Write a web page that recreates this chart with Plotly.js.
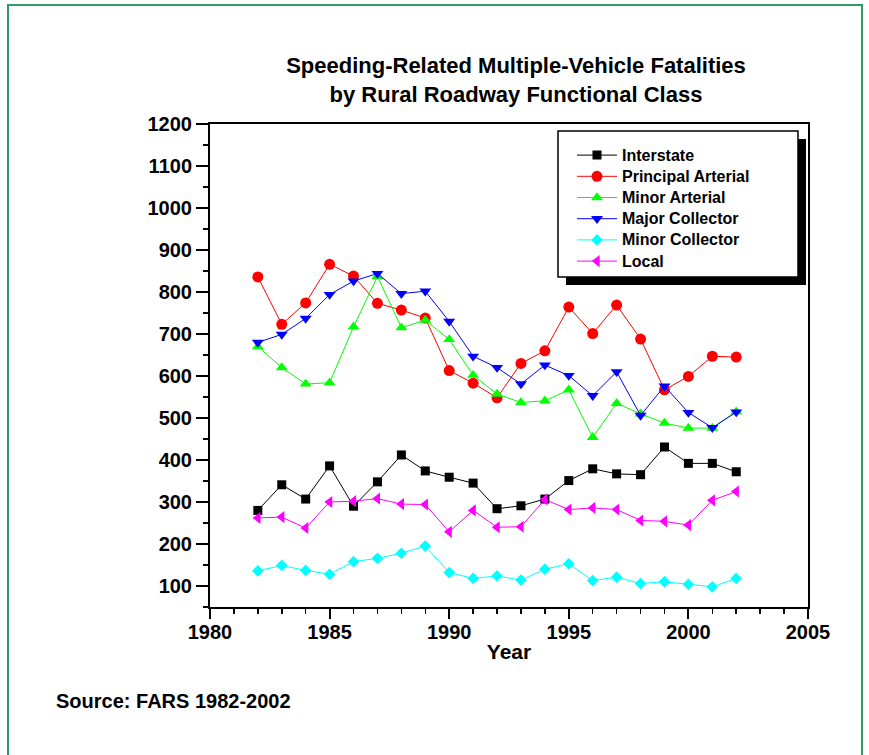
<!DOCTYPE html>
<html>
<head>
<meta charset="utf-8">
<script src="https://cdn.plot.ly/plotly-3.0.1.min.js"></script>
<style>
  html, body { margin: 0; padding: 0; background: #ffffff; }
  #chart { width: 869px; height: 755px; }
</style>
</head>
<body>
<div id="chart"></div>
<script>
// ---- data ----
const years = [1982, 1983, 1984, 1985, 1986, 1987, 1988, 1989, 1990, 1991, 1992,
               1993, 1994, 1995, 1996, 1997, 1998, 1999, 2000, 2001, 2002];
const interstate      = [280, 341, 307, 386, 290, 348, 412, 374, 359, 345, 284, 291, 307, 351, 379, 367, 365, 431, 392, 392, 372];
const principalArt    = [836, 723, 774, 866, 838, 773, 757, 738, 613, 583, 548, 630, 660, 764, 701, 769, 688, 567, 599, 647, 645];
const minorArterial   = [670, 620, 581, 584, 717, 837, 715, 733, 687, 602, 557, 537, 541, 567, 454, 535, 510, 488, 476, 476, 515];
const majorCollector  = [680, 699, 737, 794, 826, 844, 796, 802, 730, 647, 620, 581, 626, 601, 553, 610, 506, 576, 513, 477, 514];
const minorCollector  = [136, 149, 137, 128, 158, 166, 178, 195, 132, 118, 124, 114, 140, 153, 113, 121, 106, 110, 104, 98, 118];
const localRoads      = [262, 264, 238, 300, 302, 308, 295, 294, 229, 280, 240, 241, 306, 282, 286, 282, 256, 254, 245, 304, 325];

const seriesNames = ["Interstate", "Principal Arterial", "Minor Arterial", "Major Collector", "Minor Collector", "Local"];
const xTickVals = [1980, 1985, 1990, 1995, 2000, 2005];
const yTickVals = [100, 200, 300, 400, 500, 600, 700, 800, 900, 1000, 1100, 1200];
const titleText = "Speeding-Related Multiple-Vehicle Fatalities<br>by Rural Roadway Functional Class";
const sourceText = "Source: FARS 1982-2002";

// ---- layout geometry helpers ----
const W = 869, H = 755;
const M = { l: 210, r: 61, t: 124, b: 148 };
const PW = W - M.l - M.r, PH = H - M.t - M.b;
const px = x => (x - M.l) / PW;
const py = y => (H - M.b - y) / PH;

const FONT = "Liberation Sans, Arial, Helvetica, sans-serif";

const styles = [
  { color: "#000000", symbol: "square",        size: 9 },
  { color: "#ff0000", symbol: "circle",        size: 11 },
  { color: "#00ff00", symbol: "triangle-up",   size: 10.5 },
  { color: "#0000ff", symbol: "triangle-down", size: 10.5 },
  { color: "#00ffff", symbol: "diamond",       size: 9 },
  { color: "#ff00ff", symbol: "triangle-left", size: 10.5 }
];
const values = [interstate, principalArt, minorArterial, majorCollector, minorCollector, localRoads];

const traces = values.map((v, i) => ({
  type: "scatter",
  mode: "lines+markers",
  name: '<span style="font-size:16px">' + seriesNames[i] + '</span>',
  x: years,
  y: v,
  line: { color: styles[i].color, width: 1 },
  marker: { color: styles[i].color, symbol: styles[i].symbol, size: styles[i].size, line: { width: 0 } },
  cliponaxis: false
}));

const layout = {
  width: W, height: H,
  margin: M,
  paper_bgcolor: "#ffffff",
  plot_bgcolor: "#ffffff",
  font: { family: FONT, size: 20, color: "#000000", weight: "bold" },
  title: {
    text: titleText,
    font: { family: FONT, size: 22, color: "#000000", weight: "bold" },
    x: 516 / W, xref: "container", xanchor: "center",
    y: 1 - 73 / H, yref: "container", yanchor: "middle"
  },
  xaxis: {
    range: [1980, 2005],
    tickmode: "array", tickvals: xTickVals, ticktext: xTickVals.map(String),
    ticks: "outside", ticklen: 10, tickwidth: 2, tickcolor: "#000",
    ticklabelstandoff: -4,
    minor: { dtick: 1, tick0: 1980, ticks: "outside", ticklen: 5, tickwidth: 1.5, tickcolor: "#000" },
    showline: true, linecolor: "#000", linewidth: 2, mirror: true,
    showgrid: false, zeroline: false,
    tickfont: { family: FONT, size: 20, color: "#000", weight: "bold" },
    title: { text: "Year", font: { family: FONT, size: 21, color: "#000", weight: "bold" }, standoff: 2 }
  },
  yaxis: {
    range: [50, 1200],
    tickmode: "array", tickvals: yTickVals, ticktext: yTickVals.map(String),
    ticks: "outside", ticklen: 12, tickwidth: 2, tickcolor: "#000",
    minor: { dtick: 50, tick0: 50, ticks: "outside", ticklen: 5, tickwidth: 1.5, tickcolor: "#000" },
    showline: true, linecolor: "#000", linewidth: 2, mirror: true,
    showgrid: false, zeroline: false,
    tickfont: { family: FONT, size: 20, color: "#000", weight: "bold" }
  },
  showlegend: true,
  legend: {
    x: px(572), y: py(139.5), xanchor: "left", yanchor: "top",
    bgcolor: "rgba(0,0,0,0)", borderwidth: 0,
    itemwidth: 40,
    font: { family: FONT, size: 14, color: "#000", weight: "bold" }
  },
  shapes: [
    // outer green frame
    { type: "rect", xref: "paper", yref: "paper", x0: px(8), x1: px(862), y0: py(5), y1: py(770),
      line: { color: "#339966", width: 2 }, fillcolor: "rgba(0,0,0,0)", layer: "above" },
    // legend shadow
    { type: "rect", xref: "paper", yref: "paper", x0: px(566), x1: px(806), y0: py(139), y1: py(285),
      line: { width: 0 }, fillcolor: "#000000", layer: "above" },
    // legend box
    { type: "rect", xref: "paper", yref: "paper", x0: px(558), x1: px(798), y0: py(131), y1: py(277),
      line: { color: "#000000", width: 1.5 }, fillcolor: "#ffffff", layer: "above" }
  ],
  annotations: [
    { text: sourceText, xref: "paper", yref: "paper", x: px(54), y: py(701),
      xanchor: "left", yanchor: "middle", showarrow: false,
      font: { family: FONT, size: 20, color: "#000", weight: "bold" } }
  ]
};

Plotly.newPlot("chart", traces, layout, { displayModeBar: false, staticPlot: true });
</script>
</body>
</html>
